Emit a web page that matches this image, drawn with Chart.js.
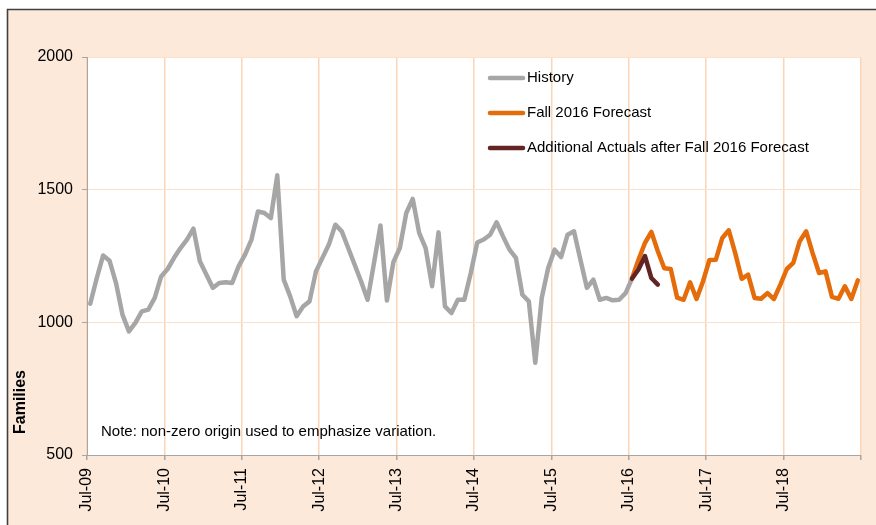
<!DOCTYPE html>
<html><head><meta charset="utf-8">
<script src="https://cdn.jsdelivr.net/npm/chart.js@4/dist/chart.umd.min.js"></script>
<style>html,body{margin:0;padding:0;background:#fff;}canvas{display:block;}</style>
</head><body>
<canvas id="c" width="876" height="525"></canvas>
<script>
// Monthly categories, Jul-09 .. Jun-19
const monthNames = ['Jan','Feb','Mar','Apr','May','Jun','Jul','Aug','Sep','Oct','Nov','Dec'];
const categories = [];
for (let k = 0; k < 120; k++) {
  const m = (6 + k) % 12, y = 9 + Math.floor((6 + k) / 12);
  categories.push(monthNames[m] + '-' + String(y).padStart(2, '0'));
}
const tickLabels = ['Jul-09','Jul-10','Jul-11','Jul-12','Jul-13','Jul-14','Jul-15','Jul-16','Jul-17','Jul-18'];

// History: Jul-09 .. Jul-16
const history = [1070,1165,1252,1232,1148,1029,966,998,1041,1048,1092,1173,
  1201,1243,1280,1312,1353,1230,1180,1130,1148,1151,1148,1211,
  1255,1312,1418,1412,1393,1554,1161,1098,1023,1060,1079,1192,
  1243,1293,1368,1343,1280,1217,1154,1085,1224,1365,1082,1227,
  1280,1412,1465,1337,1280,1136,1339,1060,1035,1085,1085,1186,
  1301,1312,1330,1377,1324,1274,1243,1104,1079,848,1092,1205,
  1274,1246,1330,1343,1236,1130,1161,1085,1092,1083,1085,1110,
  1165];
// Fall 2016 Forecast: Jul-16 .. Jun-19
const forecast = [1165,1236,1299,1341,1268,1204,1201,1093,1085,1151,1088,1154,
  1235,1236,1318,1347,1261,1164,1180,1092,1089,1110,1088,1142,
  1201,1224,1306,1343,1261,1186,1192,1096,1089,1136,1088,1158];
// Additional actuals: Jul-16 .. Nov-16
const actuals = [1165,1199,1250,1167,1142];

const forecastStart = categories.indexOf('Jul-16');
const toPts = (arr, start) => arr.map((v, k) => ({ x: start + k + 0.5, y: v }));

const PEACH = '#FCE9DA';
const bgPlugin = {
  id: 'bg',
  beforeDraw(chart) {
    const ctx = chart.ctx, a = chart.chartArea;
    ctx.save();
    ctx.fillStyle = '#ffffff';
    ctx.fillRect(0, 0, chart.width, chart.height);
    ctx.fillStyle = PEACH;
    ctx.fillRect(7, 9, chart.width - 7, chart.height - 9);
    ctx.strokeStyle = '#404040';
    ctx.lineWidth = 1.6;
    ctx.beginPath();
    ctx.moveTo(7.5, chart.height + 2);
    ctx.lineTo(7.5, 9.5);
    ctx.lineTo(chart.width + 2, 9.5);
    ctx.stroke();
    ctx.fillStyle = '#ffffff';
    ctx.fillRect(a.left, a.top, a.right - a.left, a.bottom - a.top);
    ctx.restore();
  }
};

const textPlugin = {
  id: 'texts',
  afterDraw(chart) {
    const ctx = chart.ctx;
    ctx.save();
    ctx.fillStyle = '#000';
    ctx.font = 'bold 16px "Liberation Sans", Arial, sans-serif';
    ctx.textAlign = 'center';
    ctx.textBaseline = 'middle';
    ctx.translate(21, 402);
    ctx.rotate(-Math.PI / 2);
    ctx.fillText('Families', 0, 0);
    ctx.restore();
    ctx.save();
    ctx.fillStyle = '#000';
    ctx.font = '15px "Liberation Sans", Arial, sans-serif';
    ctx.textBaseline = 'middle';
    ctx.textAlign = 'left';
    ctx.fillText('Note: non-zero origin used to emphasize variation.', 101, 432);
    // legend
    const order = [2, 1, 0];
    const ys = [78, 113, 148];
    const dsets = chart.data.datasets;
    order.forEach((di, j) => {
      const ds = dsets[di];
      ctx.strokeStyle = ds.borderColor;
      ctx.lineWidth = 4.5;
      ctx.lineCap = 'round';
      ctx.beginPath();
      ctx.moveTo(490, ys[j]);
      ctx.lineTo(523, ys[j]);
      ctx.stroke();
      ctx.fillStyle = '#000';
      ctx.fillText(ds.label, 527, ys[j]);
    });
    ctx.restore();
  }
};

Chart.defaults.font.family = '"Liberation Sans", Arial, sans-serif';
Chart.defaults.font.size = 15;
Chart.defaults.color = '#000';

const lineStyle = { borderWidth: 4.5, pointRadius: 0, tension: 0, borderJoinStyle: 'round', borderCapStyle: 'round' };

new Chart(document.getElementById('c'), {
  type: 'line',
  data: {
    datasets: [
      Object.assign({ label: 'Additional Actuals after Fall 2016 Forecast', data: toPts(actuals, forecastStart), borderColor: '#632523' }, lineStyle),
      Object.assign({ label: 'Fall 2016 Forecast', data: toPts(forecast, forecastStart), borderColor: '#E46C0A' }, lineStyle),
      Object.assign({ label: 'History', data: toPts(history, 0), borderColor: '#A6A6A6' }, lineStyle)
    ]
  },
  options: {
    responsive: false,
    animation: false,
    events: [],
    layout: { padding: { left: 0, right: 15, top: 57, bottom: 0 } },
    plugins: { legend: { display: false }, tooltip: { enabled: false } },
    scales: {
      x: {
        type: 'linear', min: 0, max: categories.length,
        afterFit(s) { s.height = 70; s.paddingRight = 0; s.paddingLeft = 0; },
        ticks: {
          font: { size: 16 },
          stepSize: 12, autoSkip: false, minRotation: 90, maxRotation: 90, padding: 8,
          callback: (v) => (v % 12 === 0 && tickLabels[v / 12] !== undefined) ? tickLabels[v / 12] : ''
        },
        grid: { color: '#FBD5B5', lineWidth: 1.5, tickColor: '#A6A6A6', tickLength: 5 },
        border: { color: '#A6A6A6', width: 1 }
      },
      y: {
        min: 500, max: 2000,
        afterFit(s) { s.width = 87; s.paddingTop = 0; s.paddingBottom = 0; },
        ticks: { font: { size: 16 }, stepSize: 500, padding: 9, callback: (v) => String(v) },
        grid: { color: '#FCE0CA', lineWidth: 1, tickColor: '#A6A6A6', tickLength: 5 },
        border: { color: '#A6A6A6', width: 1 }
      }
    }
  },
  plugins: [bgPlugin, textPlugin]
});
</script>
</body></html>
